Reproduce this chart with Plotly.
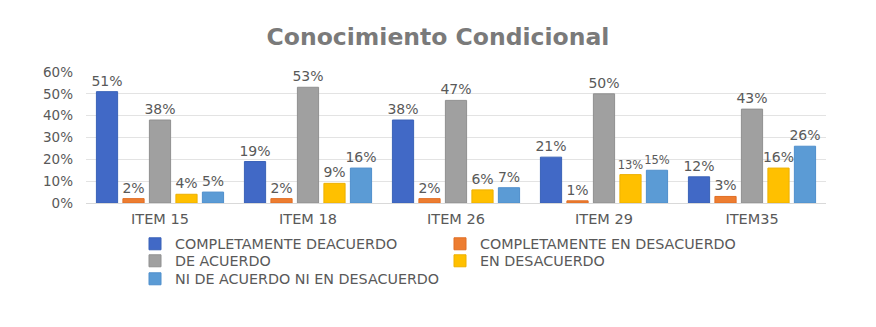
import plotly.graph_objects as go

categories = ["ITEM 15", "ITEM 18", "ITEM 26", "ITEM 29", "ITEM35"]
series_names = [
    "COMPLETAMENTE DEACUERDO",
    "COMPLETAMENTE EN DESACUERDO",
    "DE ACUERDO",
    "EN DESACUERDO",
    "NI DE ACUERDO NI EN DESACUERDO",
]
completamente_deacuerdo = [0.51, 0.19, 0.38, 0.21, 0.12]
completamente_desacuerdo = [0.02, 0.02, 0.02, 0.01, 0.03]
de_acuerdo = [0.38, 0.53, 0.47, 0.50, 0.43]
en_desacuerdo = [0.04, 0.09, 0.06, 0.13, 0.16]
ni_ni = [0.05, 0.16, 0.07, 0.15, 0.26]
y_ticks = [0, 0.1, 0.2, 0.3, 0.4, 0.5, 0.6]

values = [completamente_deacuerdo, completamente_desacuerdo, de_acuerdo, en_desacuerdo, ni_ni]
colors = ["#4169C6", "#ED7D31", "#A0A0A0", "#FFC000", "#5B9BD5"]
edges = ["#3A62B8", "#E06E25", "#909090", "#EDB000", "#4F8FCC"]

FONT = "DejaVu Sans"
TXT = "#595959"

W, H = 876, 327
L, R, T, B = 86, 50, 72, 124
pw = W - L - R
ph = H - T - B

def px_x(p):
    return (p - L) / pw

def px_y(p):
    return 1 - (p - T) / ph

# legend placement (pixel positions of each entry: text-left, row-centre)
legend_pos = [(175, 244), (480, 244), (175, 261), (480, 261), (175, 279)]

# data-label sizes; the two neighbouring labels at ITEM 29 are slightly smaller
label_sizes = [
    [14, 14, 14, 14, 14],
    [14, 14, 14, 14, 14],
    [14, 14, 14, 14, 14],
    [14, 14, 14, 11.5, 14],
    [14, 14, 14, 11.5, 14],
]

fig = go.Figure()
legend_layouts = {}
for i, (name, vals, c, e) in enumerate(zip(series_names, values, colors, edges)):
    lid = "legend" if i == 0 else f"legend{i + 1}"
    fig.add_trace(go.Bar(
        x=categories, y=vals, name=name,
        marker=dict(color=c, line=dict(color=e, width=1)),
        texttemplate="%{y:.0%}", textposition="outside", constraintext="none",
        textfont=dict(family=FONT, size=label_sizes[i], color=TXT),
        cliponaxis=False, legend=lid, showlegend=True,
    ))
    tx, ty = legend_pos[i]
    legend_layouts[lid] = dict(
        x=px_x(tx - 40), y=px_y(ty), xanchor="left", yanchor="middle",
        orientation="v", font=dict(family=FONT, size=14.3, color=TXT),
        bgcolor="rgba(0,0,0,0)", visible=True,
    )

fig.update_layout(
    width=W, height=H,
    margin=dict(l=L, r=R, t=T, b=B),
    paper_bgcolor="white", plot_bgcolor="white",
    showlegend=True,
    barmode="group", bargap=0.105, bargroupgap=0.2,
    title=dict(text="<b>Conocimiento Condicional</b>", x=0.5, xanchor="center",
               y=1 - 37 / H, yanchor="middle",
               font=dict(family=FONT, size=23.5, color="#7A7A7A")),
    font=dict(family=FONT, color=TXT),
    xaxis=dict(showline=True, linecolor="#D9D9D9", linewidth=1, ticks="",
               tickfont=dict(family=FONT, size=14.5, color=TXT),
               ticklabelstandoff=3),
    yaxis=dict(range=[0, 0.6], tickvals=y_ticks, tickformat=".0%",
               showgrid=True, gridcolor="#E3E3E3", gridwidth=1, zeroline=False,
               tickfont=dict(family=FONT, size=13.5, color=TXT), ticks="",
               ticklabelstandoff=12),
    **legend_layouts,
)

fig.write_html("out.html")
